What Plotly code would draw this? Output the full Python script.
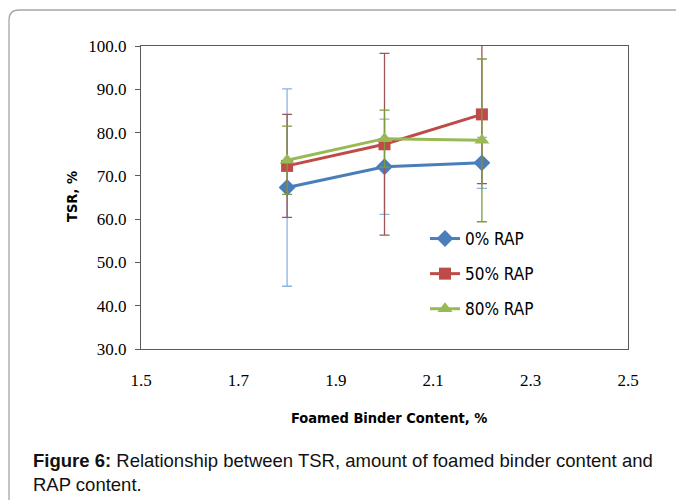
import plotly.graph_objects as go

binder = [1.8, 2.0, 2.2]
series_names = ["0% RAP", "50% RAP", "80% RAP"]
tsr_0 = [67.3, 72.1, 73.0]
err_0 = [22.8, 11.0, 5.9]
tsr_50 = [72.3, 77.3, 84.2]
err_50 = [11.9, 21.0, 16.0]
tsr_80 = [73.6, 78.6, 78.2]
err_80 = [7.9, 6.6, 18.8]

x_ticks = [1.5, 1.7, 1.9, 2.1, 2.3, 2.5]
y_ticks = [30, 40, 50, 60, 70, 80, 90, 100]

W, H = 676, 500
L, R, T, B = 141, 48, 46, 151
pw, ph = W - L - R, H - T - B

def px(x):
    return (x - L) / pw

def py(y):
    return (H - B - y) / ph

narrow = "DejaVu Sans Condensed, sans-serif"
serif = "Liberation Serif, DejaVu Serif, serif"

fig = go.Figure()
specs = [
    (series_names[0], tsr_0, err_0, "#4A7EBB", "#8DB3E2", "diamond", 13),
    (series_names[1], tsr_50, err_50, "#BE4B48", "#9B5555", "square", 12),
    (series_names[2], tsr_80, err_80, "#98B954", "#7E9C3E", "triangle-up", 13),
]
for i, (name, ys, es, col, ecol, sym, ms) in enumerate(specs):
    fig.add_trace(go.Scatter(
        x=binder, y=ys, name=name, mode="lines+markers",
        line=dict(color=col, width=3),
        marker=dict(symbol=sym, size=ms, color=col),
        error_y=dict(type="data", array=es, visible=True, color=ecol,
                     thickness=1.3, width=5),
        legendgroup=f"g{i}",
    ))

fig.update_layout(
    width=W, height=H,
    margin=dict(l=L, r=R, t=T, b=B),
    paper_bgcolor="white", plot_bgcolor="white",
    showlegend=True,
    legend=dict(x=px(425), y=py(221), xanchor="left", yanchor="top",
                font=dict(family=narrow, size=17, color="#000"),
                bgcolor="rgba(0,0,0,0)", tracegroupgap=10,
                traceorder="grouped", itemwidth=30),
    xaxis=dict(range=[1.5, 2.5], tickvals=x_ticks,
               ticktext=[f"{v:.1f}" for v in x_ticks],
               showgrid=False, zeroline=False, showline=True, mirror=True,
               linecolor="#595959", linewidth=1, ticks="",
               ticklabelstandoff=16,
               tickfont=dict(family=serif, size=17, color="#000")),
    yaxis=dict(range=[30, 100], tickvals=y_ticks,
               ticktext=[f"{v:.1f}" for v in y_ticks],
               showgrid=False, zeroline=False, showline=True, mirror=True,
               linecolor="#595959", linewidth=1, ticks="outside", ticklen=5,
               tickcolor="#595959", ticklabelstandoff=5,
               tickfont=dict(family=serif, size=17, color="#000")),
    annotations=[
        dict(text="<b>Foamed Binder Content, %</b>", xref="paper", yref="paper",
             x=px(389), y=py(418), xanchor="center", yanchor="middle",
             showarrow=False, font=dict(family=narrow, size=14.5, color="#000")),
        dict(text="<b>TSR, %</b>", xref="paper", yref="paper",
             x=px(72), y=py(197), xanchor="center", yanchor="middle",
             textangle=-90, showarrow=False,
             font=dict(family=narrow, size=14.5, color="#000")),
        dict(text="<b>Figure 6:</b> Relationship between TSR, amount of foamed binder content and<br>RAP content.",
             xref="paper", yref="paper", x=px(31), y=py(448),
             xanchor="left", yanchor="top", align="left", showarrow=False,
             font=dict(family="Liberation Sans, Arial, sans-serif", size=18.5, color="#111")),
    ],
    shapes=[
        dict(type="path", xref="paper", yref="paper",
             path=(f"M {px(9)},{py(510)} L {px(9)},{py(20)} "
                   f"Q {px(9)},{py(10)} {px(19)},{py(10)} L {px(690)},{py(10)}"),
             line=dict(color="#A6A6A6", width=1.3)),
    ],
)

fig.write_html("out.html")
